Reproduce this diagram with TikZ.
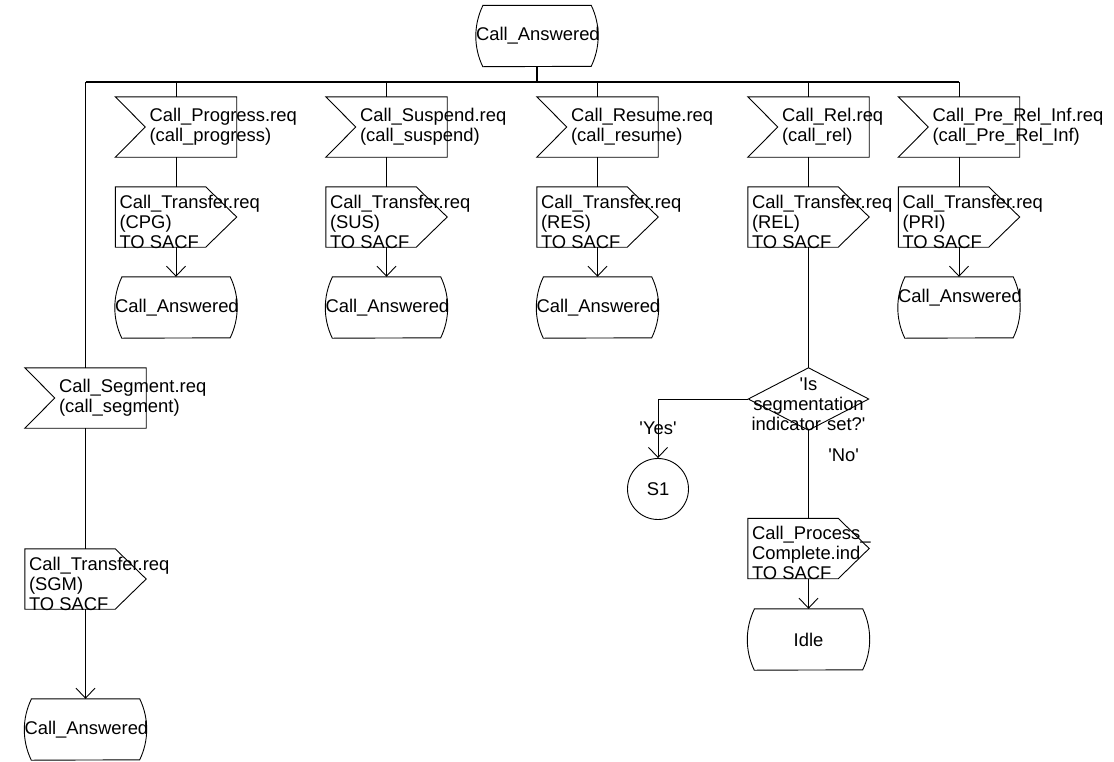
\documentclass[tikz,border=0pt]{standalone}
\usepackage{fontspec}
\setmainfont{Liberation Sans}
\usetikzlibrary{arrows.meta,positioning,calc}
\tikzset{
  sdl/.style={line width=0.9pt},
  bus/.style={line width=1.8pt},
  arr/.style={sdl,-{Straight Barb[length=10pt,width=19pt]}},
  txt/.style={inner sep=0pt,align=left},
  state/.style={minimum width=122pt,minimum height=61pt,inner sep=0pt,text width=122pt,align=center,
    append after command={\pgfextra{
      \draw[sdl] ($(\tikzlastnode.north west)+(7pt,0pt)$) -- ($(\tikzlastnode.north east)+(-7pt,0pt)$)
      arc[start angle=25.85,end angle=-25.85,radius=69.96pt]
      -- ($(\tikzlastnode.south west)+(7pt,0pt)$)
      arc[start angle=205.85,end angle=154.15,radius=69.96pt] -- cycle;}}},
  insig/.style={minimum width=121pt,minimum height=60pt,inner sep=0pt,
    append after command={\pgfextra{
      \draw[sdl] (\tikzlastnode.north west) -- (\tikzlastnode.north east) -- (\tikzlastnode.south east)
      -- (\tikzlastnode.south west) -- ($(\tikzlastnode.west)+(30pt,0pt)$) -- cycle;}}},
  outsig/.style={minimum width=121pt,minimum height=60pt,inner sep=0pt,
    append after command={\pgfextra{
      \draw[sdl] (\tikzlastnode.north west) -- ($(\tikzlastnode.north east)+(-31pt,0pt)$) -- (\tikzlastnode.east)
      -- ($(\tikzlastnode.south east)+(-31pt,0pt)$) -- (\tikzlastnode.south west) -- cycle;}}},
  decision/.style={minimum width=120pt,minimum height=62pt,inner sep=0pt,text width=120pt,align=center,
    append after command={\pgfextra{
      \draw[sdl] (\tikzlastnode.north) -- (\tikzlastnode.east) -- (\tikzlastnode.south)
      -- (\tikzlastnode.west) -- cycle;}}},
}

\begin{document}
\begin{tikzpicture}[x=1pt,y=-1pt,every node/.style={font=\fontsize{18.4}{20}\selectfont}]
 \useasboundingbox (0,0) rectangle (1114,761);
 % start state
 \node[state] (top) at (537,36) {Call\_Answered};
 \coordinate (bus) at (537,82);
 % the five request columns
 \foreach \n/\x/\sig/\prm/\cd in {prog/176/Progress/progress/CPG,susp/386.5/Suspend/suspend/SUS,res/597.5/Resume/resume/RES,rel/808.5/Rel/rel/REL,pri/959/Pre\_Rel\_Inf/Pre\_Rel\_Inf/PRI}{
   \node[insig] (\n) at (\x,127) {};
   \node[txt,right=34pt of \n.west] (\n-t) {Call\_\sig.req\\(call\_\prm)};
   \node[outsig] (t\n) at (\x,217) {};
   \node[txt,below right=8pt and 4pt of t\n.north west] (t\n-t) {Call\_Transfer.req\\(\cd)\\TO SACF};
   \draw[sdl] (bus -| \n) -- (\n);
   \draw[sdl] (\n) -- (t\n);
 }
 \foreach \n/\x in {prog/176,susp/386.5,res/597.5}{
   \node[state] (s\n) at (\x,307.5) {Call\_Answered};
   \draw[arr] (t\n) -- (s\n);
 }
 \node[state,text height=13pt,text depth=24pt] (spri) at (959,307.5) {Call\_Answered};
 \draw[arr] (tpri) -- (spri);
 % segment branch
 \node[insig] (seg) at (85.5,398) {};
 \node[txt,right=34pt of seg.west] (seg-t) {Call\_Segment.req\\(call\_segment)};
 \node[outsig] (tsgm) at (85.5,579) {};
 \node[txt,below right=8pt and 4pt of tsgm.north west] (tsgm-t) {Call\_Transfer.req\\(SGM)\\TO SACF};
 \node[state] (ssgm) at (85.5,729.5) {Call\_Answered};
 \draw[sdl] (bus -| seg) -- (seg);
 \draw[sdl] (seg) -- (tsgm);
 \draw[arr] (tsgm) -- (ssgm);
 % bus
 \draw[bus] (top) -- (bus);
 \draw[bus] (bus -| seg) -- (bus -| pri);
 % release branch
 \node[decision,text height=13pt,text depth=31pt] (dec) at (808.5,399) {\textquotesingle Is\\segmentation\\indicator set?\textquotesingle};
 \node[draw,sdl,circle,minimum size=61pt,inner sep=0pt] (s1) at (658,489) {S1};
 \node[outsig] (tcomp) at (808.5,548.5) {};
 \node[txt,below right=8pt and 4pt of tcomp.north west] (tcomp-t) {Call\_Process\_\\Complete.ind\\TO SACF};
 \node[state] (idle) at (808.5,639.5) {Idle};
 \draw[sdl] (trel) -- (dec);
 \draw[arr] (dec.west) -| node[pos=.75] (yes) {\textquotesingle Yes\textquotesingle} (s1);
 \draw[sdl] (dec) -- node[pos=.28,right=16pt] (no) {\textquotesingle No\textquotesingle} (tcomp);
 \draw[arr] (tcomp) -- (idle);
\end{tikzpicture}
\end{document}
